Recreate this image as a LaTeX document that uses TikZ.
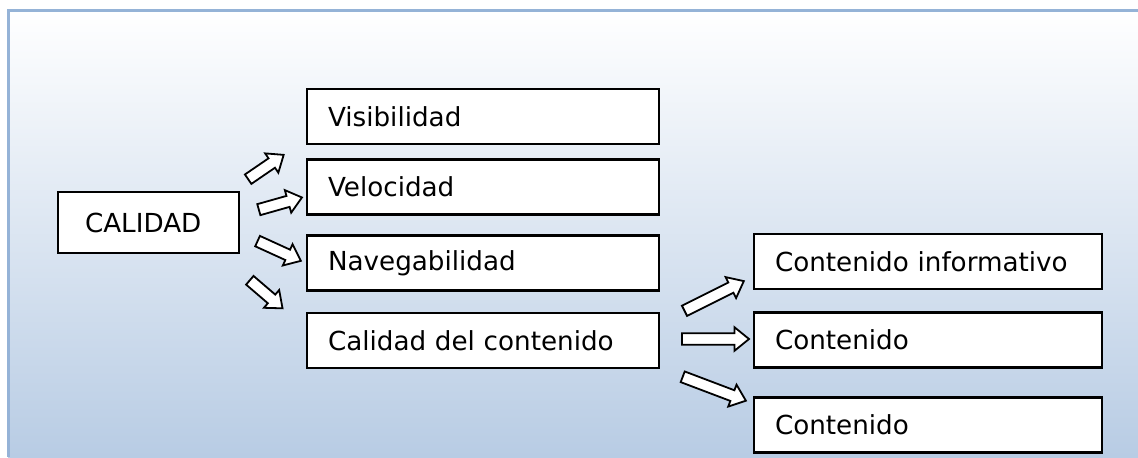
\documentclass[tikz,border=0pt]{standalone}
\usepackage{fontspec}
\setmainfont{DejaVu Sans}
\usepackage{xcolor}
\usepackage{tikz}
\usetikzlibrary{shapes.arrows,calc}

\definecolor{panelblue}{RGB}{184,204,228}
\definecolor{edgeblue}{RGB}{149,179,215}

\newcommand{\hollowarrow}[2]{%
	\path let \p1 = (#1), \p2 = (#2), \n1 = {atan2(\y2-\y1,\x2-\x1)}, \n2 = {veclen(\x2-\x1,\y2-\y1)} in
		node [arrowbox, rotate=\n1, minimum height=\n2-1.5] at ($(#1)!0.5!(#2)$) {};}

\begin{document}
\begin{tikzpicture}[x=0.5pt, y=-0.5pt,
	box/.style = {draw, line width=1.1pt, fill=white, minimum height=27.5pt, inner xsep=10.5pt, align=left, font=\fontsize{13.1}{15}\selectfont},
	arrowbox/.style = {single arrow, draw, line width=0.9pt, fill=white, inner xsep=0pt, inner ysep=2.4pt, single arrow head extend=3pt, single arrow tip angle=78}]
	\useasboundingbox (0,0) rectangle (1138,457);
	\shade [top color=white, bottom color=panelblue] (8,10) rectangle (1138,457);
	\draw [edgeblue, line width=1.5pt] (8.5,457) -- (8.5,10.5) -- (1138,10.5);

	\node [box, minimum height=30.5pt, inner xsep=13.5pt, text width=63.5pt] (calidad) at (148.5,222.5) {CALIDAD};

	\node [box, text width=155pt] (visib) at (483,116.5) {Visibilidad};
	\node [box, text width=155pt] (veloc) at (483,187) {Velocidad};
	\node [box, text width=155pt] (naveg) at (483,263) {Navegabilidad};
	\node [box, text width=155pt] (calcont) at (483,340.5) {Calidad del contenido};

	\node [box, text width=153pt] (cinfo) at (928,261.5) {Contenido informativo};
	\node [box, text width=153pt] (conta) at (928,340) {Contenido};
	\node [box, text width=153pt] (contb) at (928,425) {Contenido};

	\coordinate (visib-s) at (244,182);
	\coordinate (visib-e) at (282,156);
	\coordinate (veloc-s) at (254,211);
	\coordinate (veloc-e) at (300,198);
	\coordinate (naveg-s) at (253,239);
	\coordinate (naveg-e) at (299,260);
	\coordinate (calcont-s) at (246,277);
	\coordinate (calcont-e) at (281,307);
	\hollowarrow{visib-s}{visib-e}
	\hollowarrow{veloc-s}{veloc-e}
	\hollowarrow{naveg-s}{naveg-e}
	\hollowarrow{calcont-s}{calcont-e}

	\coordinate (cinfo-s) at (680,313);
	\coordinate (cinfo-e) at (742,282);
	\coordinate (conta-s) at (677,339);
	\coordinate (conta-e) at (747,339);
	\coordinate (contb-s) at (678,375);
	\coordinate (contb-e) at (744,400);
	\hollowarrow{cinfo-s}{cinfo-e}
	\hollowarrow{conta-s}{conta-e}
	\hollowarrow{contb-s}{contb-e}
\end{tikzpicture}
\end{document}
